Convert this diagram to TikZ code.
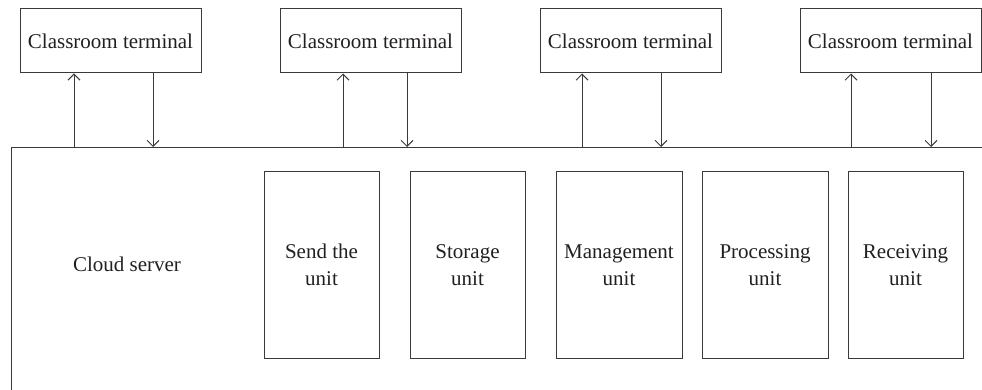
\documentclass[tikz,border=0pt]{standalone}
\usepackage{fontspec}
\setmainfont{Liberation Serif}
\usetikzlibrary{arrows.meta}
\definecolor{linec}{HTML}{3A3A3A}
\definecolor{textc}{HTML}{231F20}
\tikzset{
  termbox/.style={draw=linec, line width=1pt, minimum width=181pt, minimum height=64pt, inner sep=0pt, text=textc, font=\fontsize{21}{27}\selectfont},
  unitbox/.style={draw=linec, line width=1pt, minimum height=186pt, inner sep=0pt, text=textc, align=center, font=\fontsize{21}{27}\selectfont},
  lbl/.style={text=textc, font=\fontsize{21}{27}\selectfont, inner sep=0pt},
  arr/.style={draw=linec, line width=1pt, -{Straight Barb[length=6pt,width=12pt]}}
}
\begin{document}
\begin{tikzpicture}[x=1pt,y=-1pt]
\useasboundingbox (0,0) rectangle (982,390);
\clip (0,0) rectangle (982,390);
% cloud server frame (extends past the right and bottom edges)
\node[draw=linec, line width=1pt, anchor=north west, minimum width=990pt, minimum height=270pt, inner sep=0pt] (cloud) at (11,147) {};
\node[lbl] (cloudlbl) at (127,264) {Cloud server};
% terminals
\node[termbox] (t1) at (110.5,41) {Classroom terminal};
\node[termbox] (t2) at (370.5,41) {Classroom terminal};
\node[termbox] (t3) at (630.5,41) {Classroom terminal};
\node[termbox] (t4) at (890.5,41) {Classroom terminal};
% connectors
\draw[arr] ([xshift=-36.5pt]t1.south |- cloud.north) -- ([xshift=-36.5pt]t1.south);
\draw[arr] ([xshift=42.5pt]t1.south) -- ([xshift=42.5pt]t1.south |- cloud.north);
\draw[arr] ([xshift=-27.5pt]t2.south |- cloud.north) -- ([xshift=-27.5pt]t2.south);
\draw[arr] ([xshift=36.5pt]t2.south) -- ([xshift=36.5pt]t2.south |- cloud.north);
\draw[arr] ([xshift=-48.5pt]t3.south |- cloud.north) -- ([xshift=-48.5pt]t3.south);
\draw[arr] ([xshift=30.5pt]t3.south) -- ([xshift=30.5pt]t3.south |- cloud.north);
\draw[arr] ([xshift=-39.5pt]t4.south |- cloud.north) -- ([xshift=-39.5pt]t4.south);
\draw[arr] ([xshift=40.5pt]t4.south) -- ([xshift=40.5pt]t4.south |- cloud.north);
% units
\node[unitbox, minimum width=115pt] (u1) at (321.5,265) {Send the\\unit};
\node[unitbox, minimum width=115pt] (u2) at (467.5,265) {Storage\\unit};
\node[unitbox, minimum width=126pt] (u3) at (619,265) {Management\\unit};
\node[unitbox, minimum width=126pt] (u4) at (765,265) {Processing\\unit};
\node[unitbox, minimum width=115pt] (u5) at (905.5,265) {Receiving\\unit};
\end{tikzpicture}
\end{document}
